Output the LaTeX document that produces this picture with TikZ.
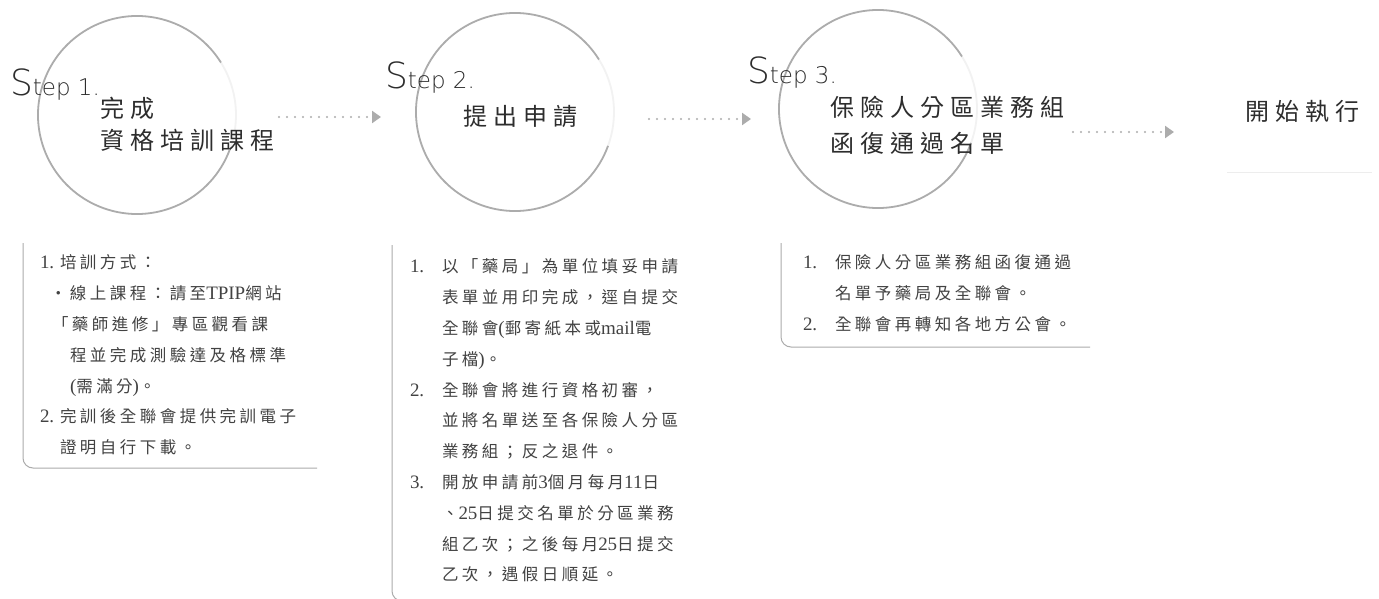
\documentclass[tikz,border=0pt]{standalone}
\usepackage{fontspec}
\newfontfamily\titlefont{Noto Sans CJK TC}[LetterSpace=25]
\newfontfamily\listfont{Noto Sans CJK TC}[LetterSpace=21]
\newfontfamily\latfont{Liberation Serif}[Scale=1.15]
\newfontfamily\stepfont{DejaVu Sans ExtraLight}
\definecolor{mygray}{RGB}{172,172,172}
\definecolor{myink}{RGB}{45,45,45}
\newcommand{\lat}[1]{{\latfont #1}}
\newcommand{\stepname}[1]{{\fontsize{36}{36}\selectfont S}{\fontsize{23}{23}\selectfont tep #1.}}
\usetikzlibrary{arrows.meta,positioning,calc}

\begin{document}
\begin{tikzpicture}[x=1pt,y=-1pt,
        every node/.style={inner sep=0pt,outer sep=0pt},
        stepcircle/.style={draw=mygray,line width=1.8pt},
        steplabel/.style={anchor=base west,font=\stepfont,text=myink},
        steptitle/.style={anchor=west,font={\titlefont\fontsize{24}{34}\selectfont},text=myink},
        listbox/.style={anchor=north west,align=left,font={\listfont\fontsize{16.5}{30.8}\selectfont},text=myink!90},
        boxline/.style={draw=mygray,line width=1pt,rounded corners=10pt},
        nextarrow/.style={draw=mygray,line width=2.2pt,line cap=round,dash pattern=on 0pt off 8pt,
            -{Triangle[length=9pt,width=12pt]}}
        ]
        \fill[white] (0,0) rectangle (1379,599);
        \useasboundingbox (0,0) rectangle (1379,599);

        % the circles
        \foreach \c/\x/\y in {c1/137/115,c2/515/112,c3/878/109} {
            \coordinate (\c) at (\x,\y);
            \draw[stepcircle] (\c) ++(20:99) arc[start angle=20,end angle=328,radius=99];
            \draw[stepcircle,draw opacity=0.15] (\c) ++(-32:99) arc[start angle=-32,end angle=20,radius=99];
        }

        % the steps
        \node[steplabel] (s1) at (10,96) {\stepname{1}};
        \node[steplabel] (s2) at (385,89) {\stepname{2}};
        \node[steplabel] (s3) at (747,84) {\stepname{3}};

        \node[steptitle] (t1a) at (100,108) {完成};
        \node[steptitle,below=10pt of t1a.south west,anchor=north west] (t1b) {資格培訓課程};
        \node[steptitle] (t2) at (463,117) {提出申請};
        \node[steptitle] (t3a) at (830,107) {保險人分區業務組};
        \node[steptitle,below=14pt of t3a.south west,anchor=north west] (t3b) {函復通過名單};
        \node[steptitle] (t4) at (1245,111) {開始執行};
        \draw[black!7] (1227,172) -- (1372,172);

        % the arrows
        \coordinate (a1s) at (279,117);
        \coordinate (a1e) at (381,117);
        \coordinate (a2s) at (649,119);
        \coordinate (a2e) at (751,119);
        \coordinate (a3s) at (1073,132);
        \coordinate (a3e) at (1174,132);
        \draw[nextarrow] (a1s) -- (a1e);
        \draw[nextarrow] (a2s) -- (a2e);
        \draw[nextarrow] (a3s) -- (a3e);

        % the boxes
        \node[listbox] (l1) at (40,255) {%
            \makebox[20pt][l]{\lat{1.}}培訓方式：\\
            \hspace*{10pt}・線上課程：請至\lat{TPIP}網站\\
            \hspace*{12pt}「藥師進修」專區觀看課\\
            \hspace*{30pt}程並完成測驗達及格標準\\
            \hspace*{30pt}\lat{(}需滿分\lat{)}。\\
            \makebox[20pt][l]{\lat{2.}}完訓後全聯會提供完訓電子\\
            \hspace*{20pt}證明自行下載。};
        \node[listbox] (l2) at (410,259) {%
            \makebox[32pt][l]{\lat{1.}}以「藥局」為單位填妥申請\\
            \hspace*{32pt}表單並用印完成，逕自提交\\
            \hspace*{32pt}全聯會\lat{(}郵寄紙本或\lat{mail}電\\
            \hspace*{32pt}子檔\lat{)}。\\
            \makebox[32pt][l]{\lat{2.}}全聯會將進行資格初審，\\
            \hspace*{32pt}並將名單送至各保險人分區\\
            \hspace*{32pt}業務組；反之退件。\\
            \makebox[32pt][l]{\lat{3.}}開放申請前\lat{3}個月每月\lat{11}日\\
            \hspace*{32pt}、\lat{25}日提交名單於分區業務\\
            \hspace*{32pt}組乙次；之後每月\lat{25}日提交\\
            \hspace*{32pt}乙次，遇假日順延。};
        \node[listbox] (l3) at (803,255) {%
            \makebox[32pt][l]{\lat{1.}}保險人分區業務組函復通過\\
            \hspace*{32pt}名單予藥局及全聯會。\\
            \makebox[32pt][l]{\lat{2.}}全聯會再轉知各地方公會。};

        \coordinate (b1top) at (23,243);
        \coordinate (b1end) at (317,468);
        \coordinate (b2top) at (392,245);
        \coordinate (b2end) at (700,601);
        \coordinate (b3top) at (781,243);
        \coordinate (b3end) at (1090,347);
        \draw[boxline] (b1top) |- (b1end);
        \draw[boxline] (b2top) |- (b2end);
        \draw[boxline] (b3top) |- (b3end);
\end{tikzpicture}
\end{document}
